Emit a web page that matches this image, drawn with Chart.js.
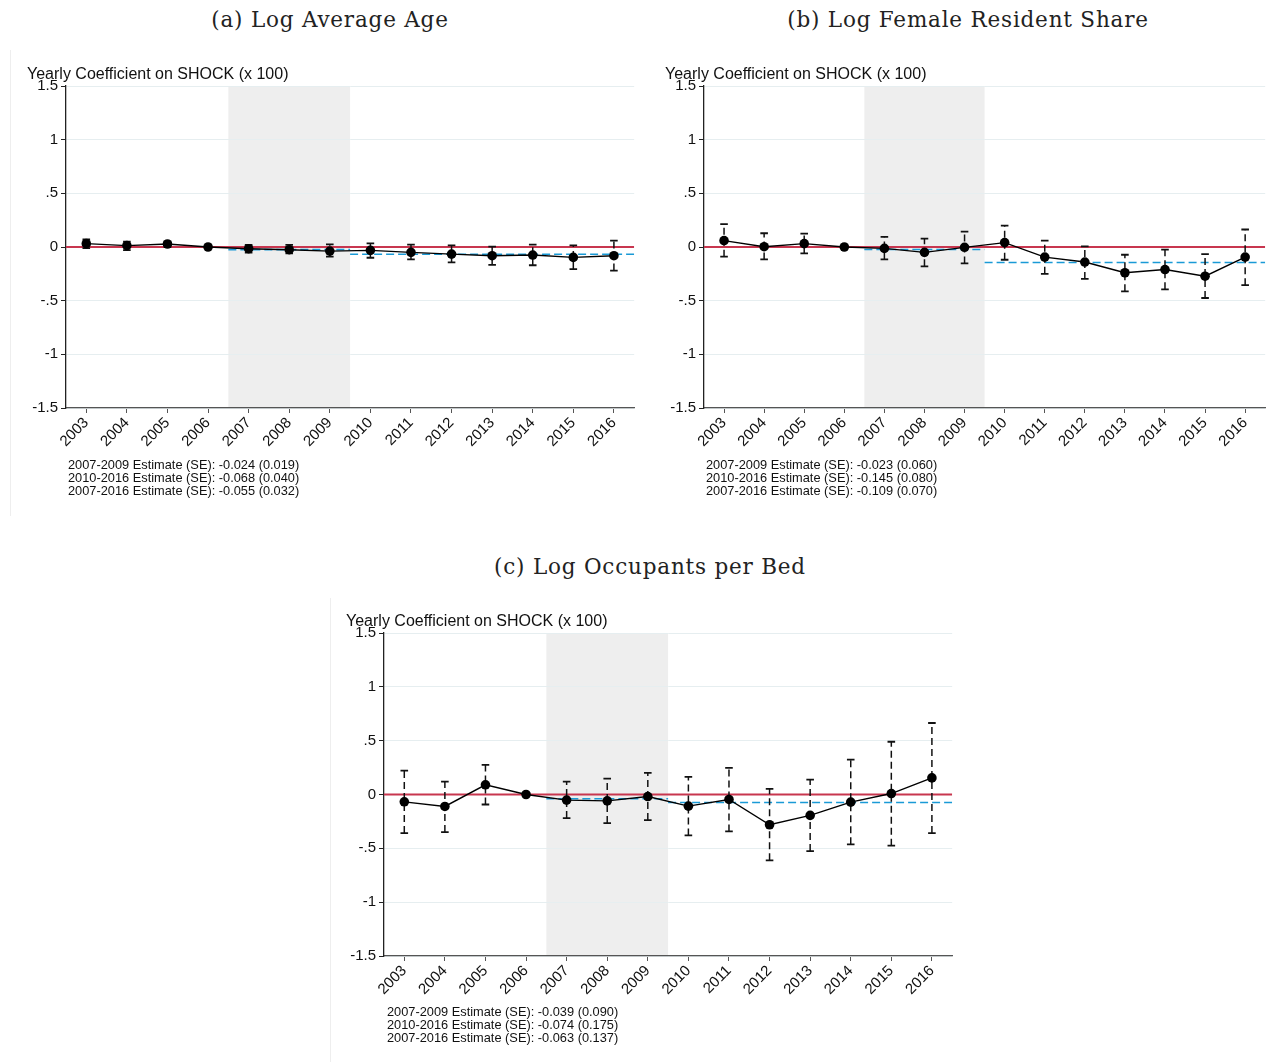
<!DOCTYPE html>
<html>
<head>
<meta charset="utf-8">
<script src="https://cdn.jsdelivr.net/npm/chart.js@4.4.1/dist/chart.umd.min.js"></script>
<style>
    body {
        margin: 0;
        width: 1271px;
        height: 1062px;
        background: #ffffff;
        position: relative;
        overflow: hidden;
        font-family: "Liberation Sans", Arial, sans-serif;
    }
    .title {
        position: absolute;
        font-family: "DejaVu Serif", serif;
        font-size: 21.5px;
        letter-spacing: 0.8px;
        color: #222;
        transform: translateX(-50%);
        white-space: nowrap;
    }
    .ytitle {
        position: absolute;
        font-size: 16px;
        color: #111;
        white-space: nowrap;
    }
    .note {
        position: absolute;
        font-size: 12.8px;
        line-height: 13px;
        color: #111;
        white-space: nowrap;
    }
    .edge {
        position: absolute;
        width: 1px;
        background: #eeeeee;
    }
    .box {
        position: absolute;
    }
</style>
</head>
<body>

<div class="edge" style="left:10px; top:50px; height:466px;"></div>
<div class="edge" style="left:330px; top:598px; height:464px;"></div>

<div class="title" style="left:330px; top:7px;">(a) Log Average Age</div>
<div class="title" style="left:968px; top:7px;">(b) Log Female Resident Share</div>
<div class="title" style="left:650px; top:554px;">(c) Log Occupants per Bed</div>

<div class="box" style="left:10px; top:74px; width:630px; height:384px;"><canvas id="chartA"></canvas></div>
<div class="box" style="left:648px; top:74px; width:623px; height:384px;"><canvas id="chartB"></canvas></div>
<div class="box" style="left:328px; top:621px; width:630px; height:385px;"><canvas id="chartC"></canvas></div>

<div class="ytitle" style="left:27px; top:65px;">Yearly Coefficient on SHOCK (x 100)</div>
<div class="ytitle" style="left:665px; top:65px;">Yearly Coefficient on SHOCK (x 100)</div>
<div class="ytitle" style="left:346px; top:612px;">Yearly Coefficient on SHOCK (x 100)</div>

<div class="note" style="left:68px; top:458px;">
    2007-2009 Estimate (SE): -0.024 (0.019)<br>
    2010-2016 Estimate (SE): -0.068 (0.040)<br>
    2007-2016 Estimate (SE): -0.055 (0.032)
</div>
<div class="note" style="left:706px; top:458px;">
    2007-2009 Estimate (SE): -0.023 (0.060)<br>
    2010-2016 Estimate (SE): -0.145 (0.080)<br>
    2007-2016 Estimate (SE): -0.109 (0.070)
</div>
<div class="note" style="left:387px; top:1005px;">
    2007-2009 Estimate (SE): -0.039 (0.090)<br>
    2010-2016 Estimate (SE): -0.074 (0.175)<br>
    2007-2016 Estimate (SE): -0.063 (0.137)
</div>

<script>

const years = [2003, 2004, 2005, 2006, 2007, 2008, 2009, 2010, 2011, 2012, 2013, 2014, 2015, 2016];

const yTicks = [-1.5, -1, -0.5, 0, 0.5, 1, 1.5];

const yTickLabels = ['-1.5', '-1', '-.5', '0', '.5', '1', '1.5'];

const shadeFrom = 2006.5;
const shadeTo = 2009.5;

// (a) Log Average Age
const coefA = [0.031, 0.013, 0.028, 0, -0.016, -0.025, -0.038, -0.031, -0.050, -0.066, -0.081, -0.075, -0.097, -0.081];
const loA = [-0.010, -0.030, 0.000, 0, -0.053, -0.060, -0.090, -0.100, -0.116, -0.144, -0.166, -0.170, -0.206, -0.220];
const hiA = [0.070, 0.050, 0.050, 0, 0.020, 0.020, 0.025, 0.034, 0.022, 0.016, 0.003, 0.022, 0.016, 0.060];
const pooledA = [-0.024, -0.068];

// (b) Log Female Resident Share
const coefB = [0.059, 0.003, 0.031, 0, -0.013, -0.050, -0.003, 0.041, -0.094, -0.140, -0.240, -0.210, -0.272, -0.094];
const loB = [-0.090, -0.116, -0.060, 0, -0.116, -0.180, -0.153, -0.119, -0.250, -0.297, -0.413, -0.394, -0.475, -0.356];
const hiB = [0.213, 0.128, 0.125, 0, 0.094, 0.078, 0.144, 0.200, 0.060, 0.006, -0.072, -0.025, -0.066, 0.163];
const pooledB = [-0.023, -0.145];

// (c) Log Occupants per Bed
const coefC = [-0.068, -0.111, 0.090, 0, -0.052, -0.059, -0.019, -0.108, -0.046, -0.281, -0.194, -0.071, 0.009, 0.154];
const loC = [-0.358, -0.349, -0.093, 0, -0.219, -0.265, -0.238, -0.380, -0.343, -0.611, -0.525, -0.463, -0.475, -0.358];
const hiC = [0.222, 0.120, 0.275, 0, 0.120, 0.148, 0.200, 0.164, 0.247, 0.052, 0.139, 0.324, 0.490, 0.664];
const pooledC = [-0.039, -0.074];

const shadePlugin = {
    id: 'shade',
    beforeDraw(chart) {
        const x = chart.scales.x;
        const area = chart.chartArea;
        const left = x.getPixelForValue(shadeFrom);
        const right = x.getPixelForValue(shadeTo);
        const ctx = chart.ctx;
        ctx.save();
        ctx.fillStyle = '#eeeeee';
        ctx.fillRect(left, area.top, right - left, area.bottom - area.top);
        ctx.restore();
    }
};

function buildDatasets(coef, lo, hi, pooled) {

    const datasets = [];

    datasets.push({
        data: years.map((y, i) => ({ x: y, y: coef[i] })),
        borderColor: '#000000',
        backgroundColor: '#000000',
        borderWidth: 1.4,
        pointRadius: 4.8,
        pointBorderWidth: 0,
        order: 0
    });

    years.forEach((y, i) => {
        if (lo[i] === hi[i]) {
            return;
        }
        datasets.push({
            data: [{ x: y, y: lo[i] }, { x: y, y: hi[i] }],
            borderColor: '#111111',
            backgroundColor: '#111111',
            borderWidth: 1.5,
            borderDash: [7, 4],
            pointStyle: 'line',
            pointRadius: 3.8,
            pointBorderWidth: 1.8,
            pointBorderColor: '#111111',
            order: 1
        });
    });

    datasets.push({
        data: [{ x: shadeFrom, y: pooled[0] }, { x: shadeTo, y: pooled[0] }],
        borderColor: '#1a9ad6',
        borderWidth: 1.6,
        borderDash: [8, 4],
        pointRadius: 0,
        order: 2
    });

    datasets.push({
        data: [{ x: shadeTo, y: pooled[1] }, { x: 2016.5, y: pooled[1] }],
        borderColor: '#1a9ad6',
        borderWidth: 1.6,
        borderDash: [8, 4],
        pointRadius: 0,
        order: 2
    });

    datasets.push({
        data: [{ x: 2002.5, y: 0 }, { x: 2016.5, y: 0 }],
        borderColor: '#c8364f',
        borderWidth: 2,
        pointRadius: 0,
        order: 3
    });

    return datasets;
}

function renderPanel(id, coef, lo, hi, pooled) {

    const ctx =
        document.getElementById(id);

    new Chart(ctx, {

        type: 'line',

        data: {
            datasets: buildDatasets(coef, lo, hi, pooled)
        },

        plugins: [shadePlugin],

        options: {

            responsive: true,
            maintainAspectRatio: false,
            animation: false,

            layout: {
                padding: { top: 9, right: 0, left: 0, bottom: 0 }
            },

            plugins: {
                legend: { display: false },
                tooltip: { enabled: false }
            },

            scales: {

                x: {
                    type: 'linear',
                    min: 2002.5,
                    max: 2016.5,
                    afterBuildTicks: scale => {
                        scale.ticks = years.map(v => ({ value: v }));
                    },
                    afterFit: scale => {
                        scale.height = 50;
                    },
                    ticks: {
                        autoSkip: false,
                        minRotation: 45,
                        maxRotation: 45,
                        padding: 1,
                        color: '#111111',
                        font: { family: 'Liberation Sans', size: 15 },
                        callback: value => String(value)
                    },
                    grid: {
                        display: true,
                        drawOnChartArea: false,
                        drawTicks: true,
                        tickLength: 5,
                        color: '#555555'
                    },
                    border: {
                        display: true,
                        color: '#555555',
                        width: 1.3
                    }
                },

                y: {
                    min: -1.5,
                    max: 1.5,
                    afterBuildTicks: scale => {
                        scale.ticks = yTicks.map(v => ({ value: v }));
                    },
                    afterFit: scale => {
                        scale.width = 56;
                    },
                    ticks: {
                        padding: 3,
                        color: '#111111',
                        font: { family: 'Liberation Sans', size: 15 },
                        callback: value => yTickLabels[yTicks.indexOf(value)]
                    },
                    grid: {
                        color: ctx2 => ctx2.tick && ctx2.tick.value === 0 ? 'rgba(0,0,0,0)' : '#e6eef0',
                        lineWidth: 1,
                        tickLength: 5,
                        tickColor: '#222222'
                    },
                    border: {
                        display: true,
                        color: '#222222',
                        width: 1.3
                    }
                }

            }

        }

    });

}

renderPanel('chartA', coefA, loA, hiA, pooledA);
renderPanel('chartB', coefB, loB, hiB, pooledB);
renderPanel('chartC', coefC, loC, hiC, pooledC);

</script>
</body>
</html>
